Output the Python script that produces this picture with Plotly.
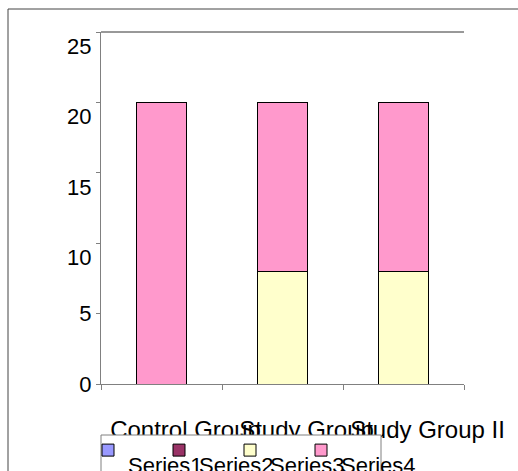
import plotly.graph_objects as go

# Categories and stacked series values
categories = ["Control Group", "Study Group", "Study Group II"]
series1 = [0, 0, 0]
series2 = [0, 0, 0]
series3 = [0, 8, 8]
series4 = [20, 12, 12]

series_names = ["Series1", "Series2", "Series3", "Series4"]
series_colors = ["#9999FF", "#993366", "#FFFFCC", "#FF99CC"]

y_tickvals = [0, 5, 10, 15, 20, 25]
y_ticktext = ["0", "5", "<br>10", "<br>15", "<br>20", "<br>25"]

FONT = "Liberation Sans, Arial, sans-serif"

fig = go.Figure()
for name, vals, col in zip(series_names, [series1, series2, series3, series4], series_colors):
    fig.add_trace(go.Bar(
        x=categories, y=vals, name="<br>" + name,
        marker=dict(color=col, line=dict(color="#000000", width=1)),
    ))

# transparent spacer entry so the last legend label is not clipped by the legend box
fig.add_trace(go.Bar(
    x=categories[:1], y=[0], name="<br>\u00a0", hoverinfo="skip",
    marker=dict(color="rgba(0,0,0,0)", line=dict(width=0)),
))

W, H = 518, 471
L, R, T, B = 101, 54, 32, 87
pw, ph = W - L - R, H - T - B


def px(x):
    return (x - L) / pw


def py(y):
    return (H - B - y) / ph


fig.update_layout(
    width=W, height=H,
    margin=dict(l=L, r=R, t=T, b=B, autoexpand=False),
    barmode="stack",
    bargap=0.59,
    plot_bgcolor="white",
    paper_bgcolor="white",
    font=dict(family=FONT, size=22, color="#000000"),
    showlegend=True,
    legend=dict(
        orientation="h",
        x=px(88), xanchor="left",
        y=py(415), yanchor="top",
        borderwidth=0,
        bgcolor="rgba(0,0,0,0)",
        font=dict(size=22),
        entrywidth=26, entrywidthmode="pixels",
        itemwidth=30,
        valign="middle",
        traceorder="normal",
    ),
    xaxis=dict(
        showline=True, linecolor="#808080", linewidth=1,
        ticks="outside", ticklen=5, tickcolor="#808080",
        tickson="boundaries",
        tickangle=0,
        ticklabelshift=24,
        ticklabelstandoff=24,
        showgrid=False,
        automargin=False,
        tickfont=dict(size=24),
    ),
    yaxis=dict(
        range=[0, 25], showline=True, linecolor="#808080", linewidth=1,
        ticks="outside", ticklen=4, tickcolor="#808080",
        tickvals=y_tickvals, ticktext=y_ticktext,
        showgrid=False, zeroline=False,
        automargin=False,
        tickfont=dict(size=22),
    ),
    shapes=[
        # plot-area top edge
        dict(type="line", xref="paper", yref="paper", x0=0, x1=1, y0=1, y1=1,
             line=dict(color="#333333", width=1)),
        # outer chart frame
        dict(type="line", xref="paper", yref="paper", x0=px(8), x1=px(530), y0=py(9), y1=py(9),
             line=dict(color="#444444", width=1)),
        dict(type="line", xref="paper", yref="paper", x0=px(8), x1=px(8), y0=py(9), y1=py(490),
             line=dict(color="#444444", width=1)),
        # legend frame, drawn over the lower part of the category labels
        dict(type="rect", xref="paper", yref="paper", layer="above",
             x0=px(101), x1=px(381), y0=py(435), y1=py(495),
             fillcolor="white", line=dict(color="#808080", width=1)),
    ],
)

fig.write_html("out.html")
